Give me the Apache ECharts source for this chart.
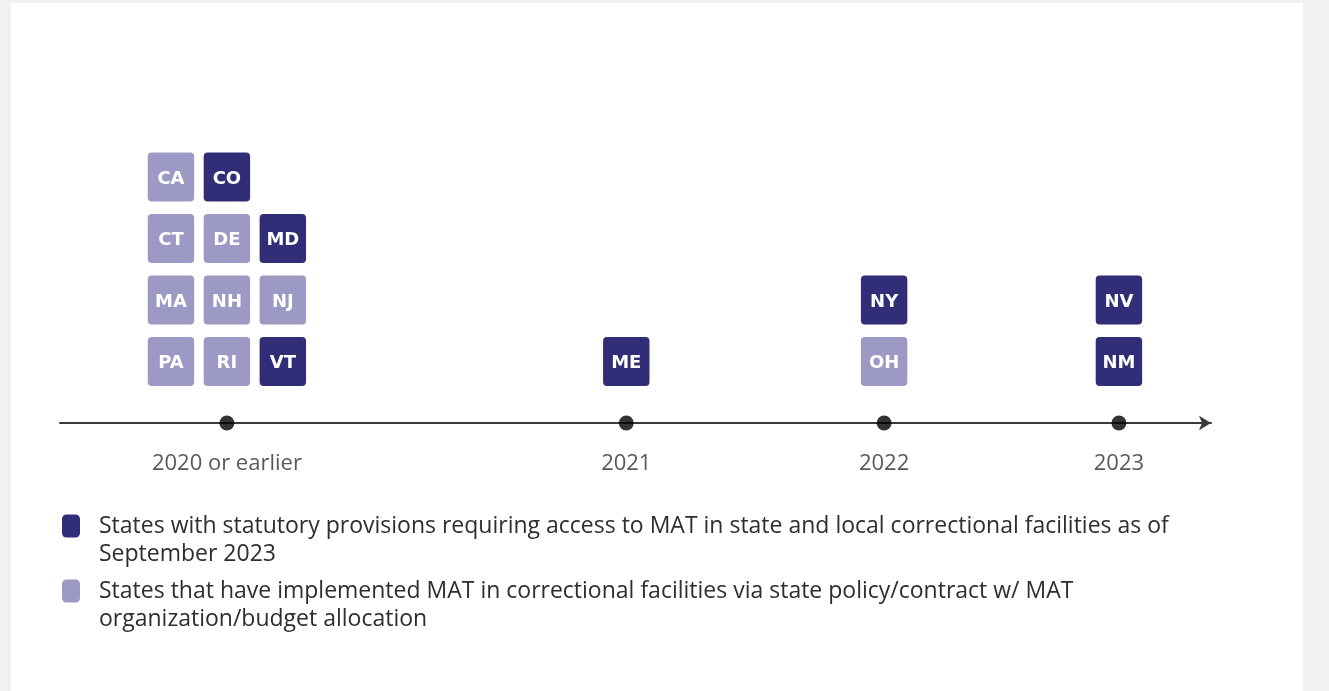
<!DOCTYPE html>
<html>
<head>
<meta charset="utf-8">
<script src="https://cdn.jsdelivr.net/npm/echarts@6/dist/echarts.min.js"></script>
<style>
  html, body { margin: 0; padding: 0; background: #f1f1f1; width: 1329px; height: 691px; overflow: hidden; }
  #chart { position: absolute; left: 11px; top: 3px; width: 1292px; height: 688px; background: #ffffff; }
</style>
</head>
<body>
<div id="chart"></div>
<script>
// Timeline periods and where each sits along the axis (0-100 scale)
const periods = ['2020 or earlier', '2021', '2022', '2023'];
const periodPos = [14.5, 49.2, 71.6, 92.0];

// States, the period they fall in, their slot in the stack, and the kind of provision
const stateCodes   = ['CA', 'CO', 'CT', 'DE', 'MD', 'MA', 'NH', 'NJ', 'PA', 'RI', 'VT', 'ME', 'NY', 'OH', 'NV', 'NM'];
const statePeriod  = [0, 0, 0, 0, 0, 0, 0, 0, 0, 0, 0, 1, 2, 2, 3, 3];
const stateColumn  = [-1, 0, -1, 0, 1, -1, 0, 1, -1, 0, 1, 0, 0, 0, 0, 0];
const stateRow     = [3, 3, 2, 2, 2, 1, 1, 1, 0, 0, 0, 0, 1, 0, 1, 0];
const stateKind    = ['policy', 'statutory', 'policy', 'policy', 'statutory', 'policy', 'policy', 'policy',
                      'policy', 'policy', 'statutory', 'statutory', 'statutory', 'policy', 'statutory', 'statutory'];

const legendNames = {
  statutory: 'States with statutory provisions requiring access to MAT in state and local correctional facilities as of\nSeptember 2023',
  policy: 'States that have implemented MAT in correctional facilities via state policy/contract w/ MAT\norganization/budget allocation'
};

const COL_STEP = 4.86;   // horizontal spacing between stacked boxes, in axis units
const DARK = '#312d77';
const LIGHT = '#9c99c5';
const TEXT = '#2e2e2e';

function buildKind(kind) {
  const pts = [];
  stateCodes.forEach((code, i) => {
    if (stateKind[i] !== kind) return;
    pts.push({ value: [periodPos[statePeriod[i]] + stateColumn[i] * COL_STEP, stateRow[i]], code: code });
  });
  return pts;
}

// Rounded box with the state code centred inside
function renderBox(code, api) {
  const c = api.coord([api.value(0), api.value(1)]);
  const s = api.size([COL_STEP, 1]);
  const w = s[0] * 0.83, h = s[1] * 0.8;
  return {
    type: 'rect',
    shape: { x: c[0] - w / 2, y: c[1] - h / 2, width: w, height: h, r: 4 },
    style: { fill: api.visual('color') },
    textContent: {
      type: 'text',
      style: { text: code, fill: '#ffffff', font: '700 18px "DejaVu Sans", sans-serif' }
    },
    textConfig: { position: 'inside', offset: [0, 2] }
  };
}

function boxSeries(kind, color) {
  const pts = buildKind(kind);
  return {
    type: 'custom',
    name: legendNames[kind],
    itemStyle: { color: color },
    renderItem: function (params, api) {
      return renderBox(pts[params.dataIndex].code, api);
    },
    data: pts.map(p => p.value),
    z: 3
  };
}

const chart = echarts.init(document.getElementById('chart'), null, { renderer: 'canvas' });

const legendText = {
  color: TEXT,
  fontFamily: '"Open Sans", sans-serif',
  fontSize: 23,
  lineHeight: 28,
  padding: [0, 0, 0, 14]
};

// leading blank line keeps the icon level with the first line of text
const legendFormatter = name => '\n' + name;

chart.setOption({
  animation: false,
  backgroundColor: '#ffffff',
  grid: { left: 49, right: 92, top: 112.5, bottom: 268 },
  xAxis: {
    type: 'value', min: 0, max: 100,
    axisLine: { onZero: false, symbol: ['none', 'arrow'], symbolSize: [11, 12], lineStyle: { color: '#3a3a3a', width: 2 } },
    axisTick: { show: false }, axisLabel: { show: false }, splitLine: { show: false }
  },
  yAxis: {
    type: 'value', min: -1, max: 4,
    show: false
  },
  legend: [
    {
      data: [legendNames.statutory], left: 51, top: 481, padding: 0,
      icon: 'roundRect', itemWidth: 18, itemHeight: 23, selectedMode: false,
      formatter: legendFormatter, textStyle: legendText
    },
    {
      data: [legendNames.policy], left: 51, top: 546, padding: 0,
      icon: 'roundRect', itemWidth: 18, itemHeight: 23, selectedMode: false,
      formatter: legendFormatter, textStyle: legendText
    }
  ],
  series: [
    boxSeries('statutory', DARK),
    boxSeries('policy', LIGHT),
    {
      type: 'scatter',
      symbolSize: 15,
      itemStyle: { color: '#000000' },
      silent: true,
      z: 4,
      data: periods.map((p, i) => ({ value: [periodPos[i], -1], name: p })),
      label: {
        show: true, position: 'bottom', distance: 22,
        formatter: d => d.name,
        color: TEXT, fontFamily: '"Open Sans", sans-serif', fontSize: 22
      }
    }
  ]
});
</script>
</body>
</html>
